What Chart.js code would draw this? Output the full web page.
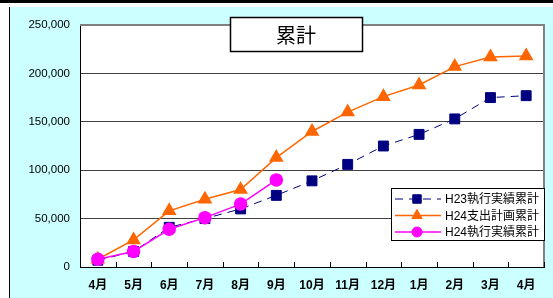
<!DOCTYPE html>
<html>
<head>
<meta charset="utf-8">
<script src="https://cdn.jsdelivr.net/npm/chart.js@4.4.1/dist/chart.umd.min.js"></script>
<style>
  html, body { margin: 0; padding: 0; background: #ffffff; }
  #wrap { position: relative; width: 553px; height: 298px; }
</style>
</head>
<body>
<div id="wrap"><canvas id="ruikeiChart" width="553" height="298"></canvas></div>
<script>
// chart values
const months = ["4月", "5月", "6月", "7月", "8月", "9月", "10月", "11月", "12月", "1月", "2月", "3月", "4月"];
const h23Jisseki = [7000, 16000, 41000, 50000, 60000, 74000, 89000, 106000, 125000, 137000, 153000, 175000, 177000];
const h24Keikaku = [8000, 28000, 58000, 70000, 80000, 113000, 140000, 160000, 176000, 188000, 207000, 217000, 218000];
const h24Jisseki = [8000, 16000, 39000, 51000, 65000, 90000, null, null, null, null, null, null, null];
const seriesNames = ["H23執行実績累計", "H24支出計画累計", "H24執行実績累計"];
const yTicks = [0, 50000, 100000, 150000, 200000, 250000];
const chartTitle = "累計";

const FONT = "'Liberation Sans', 'Noto Sans CJK JP', sans-serif";

// background, frame, inner ticks, title box and legend
const framePlugin = {
  id: "frame",
  beforeDraw(chart) {
    const ctx = chart.ctx;
    const a = chart.chartArea;
    ctx.save();
    ctx.fillStyle = "#ffffff";
    ctx.fillRect(0, 0, chart.width, chart.height);
    ctx.fillStyle = "#000000";
    ctx.fillRect(0, 0, chart.width, 3);
    ctx.fillStyle = "#ccffff";
    ctx.fillRect(9, 7, chart.width - 9, chart.height - 7);
    ctx.fillStyle = "#000000";
    ctx.fillRect(9, 7, 1, chart.height - 7);
    ctx.fillStyle = "#ffffff";
    ctx.fillRect(a.left, a.top, a.right - a.left, a.bottom - a.top);
    ctx.restore();
  },
  afterDatasetsDraw(chart) {
    const ctx = chart.ctx;
    const a = chart.chartArea;
    const xs = chart.scales.x;
    ctx.save();
    // plot border top / right
    ctx.strokeStyle = "#808080";
    ctx.lineWidth = 2;
    ctx.beginPath();
    ctx.moveTo(a.left, a.top);
    ctx.lineTo(a.right, a.top);
    ctx.lineTo(a.right, a.bottom);
    ctx.stroke();
    // inner tick marks between categories
    ctx.strokeStyle = "#000000";
    ctx.lineWidth = 1;
    const step = (xs.right - xs.left) / months.length;
    for (let i = 1; i <= months.length; i++) {
      const x = Math.round(xs.left + i * step) + 0.5;
      ctx.beginPath();
      ctx.moveTo(x, a.bottom);
      ctx.lineTo(x, a.bottom - 5);
      ctx.stroke();
    }
    ctx.restore();
  },
  afterDraw(chart) {
    const ctx = chart.ctx;
    ctx.save();
    // title box
    ctx.fillStyle = "#ffffff";
    ctx.fillRect(230, 17, 132, 34);
    ctx.strokeStyle = "#000000";
    ctx.lineWidth = 1.5;
    ctx.strokeRect(230.5, 17.5, 132, 34);
    ctx.fillStyle = "#000000";
    ctx.font = "20px 'Noto Sans CJK JP', sans-serif";
    ctx.textAlign = "center";
    ctx.textBaseline = "middle";
    ctx.fillText(chartTitle, 296, 35);

    // legend box
    const lx = 391, ly = 188, lw = 153, lh = 52;
    ctx.fillStyle = "#ffffff";
    ctx.fillRect(lx, ly, lw, lh);
    ctx.strokeStyle = "#000000";
    ctx.lineWidth = 1;
    ctx.strokeRect(lx + 0.5, ly + 0.5, lw, lh);
    ctx.font = "12px " + FONT;
    ctx.textAlign = "left";
    ctx.textBaseline = "middle";
    chart.data.datasets.forEach((ds, i) => {
      const y = ly + 11 + i * 16.5;
      ctx.save();
      ctx.strokeStyle = ds.borderColor;
      ctx.lineWidth = ds.borderWidth;
      ctx.setLineDash(ds.borderDash || []);
      ctx.beginPath();
      ctx.moveTo(lx + 4, y);
      ctx.lineTo(lx + 50, y);
      ctx.stroke();
      ctx.restore();
      ctx.fillStyle = ds.pointBackgroundColor;
      ctx.strokeStyle = ds.pointBorderColor;
      Chart.helpers.drawPoint(ctx, {
        pointStyle: ds.pointStyle,
        radius: ds.pointRadius - 1,
        borderWidth: 1,
        rotation: 0
      }, lx + 26, y);
      ctx.fillStyle = "#000000";
      ctx.fillText(ds.label, lx + 54, y + 1);
    });
    ctx.restore();
  }
};

document.addEventListener("DOMContentLoaded", () => {
  const canvas = document.getElementById("ruikeiChart");
  new Chart(canvas, {
    type: "line",
    data: {
      labels: months,
      datasets: [
        {
          label: seriesNames[0],
          data: h23Jisseki,
          borderColor: "#000080",
          borderWidth: 1,
          borderDash: [8, 6],
          pointStyle: "rect",
          pointRadius: 7,
          pointBackgroundColor: "#000080",
          pointBorderColor: "#000080",
          order: 2
        },
        {
          label: seriesNames[1],
          data: h24Keikaku,
          borderColor: "#ff6600",
          borderWidth: 1.5,
          pointStyle: "triangle",
          pointRadius: 7,
          pointBackgroundColor: "#ff6600",
          pointBorderColor: "#ff6600",
          order: 1
        },
        {
          label: seriesNames[2],
          data: h24Jisseki,
          borderColor: "#ff00ff",
          borderWidth: 1.5,
          pointStyle: "circle",
          pointRadius: 6,
          pointBackgroundColor: "#ff00ff",
          pointBorderColor: "#ff00ff",
          order: 0
        }
      ]
    },
    options: {
      responsive: false,
      animation: false,
      spanGaps: false,
      layout: { padding: { left: 0, right: 9, top: 25, bottom: 0 } },
      plugins: {
        legend: { display: false },
        tooltip: { enabled: false }
      },
      scales: {
        x: {
          offset: true,
          grid: { display: false, drawTicks: false },
          border: { color: "#000000", width: 1 },
          ticks: {
            padding: 11,
            color: "#000000",
            font: { family: FONT, size: 12, weight: "bold" },
            maxRotation: 0,
            autoSkip: false
          },
          afterFit(scale) { scale.height = 31; }
        },
        y: {
          min: 0,
          max: 250000,
          afterBuildTicks(scale) { scale.ticks = yTicks.map(v => ({ value: v })); },
          grid: { color: "#404040", lineWidth: 1, drawTicks: false },
          border: { color: "#000000", width: 1 },
          ticks: {
            padding: 10,
            color: "#000000",
            font: { family: FONT, size: 11.5 },
            callback: v => v.toLocaleString("en-US")
          },
          afterFit(scale) { scale.width = 80; }
        }
      }
    },
    plugins: [framePlugin]
  });
});
</script>
</body>
</html>
